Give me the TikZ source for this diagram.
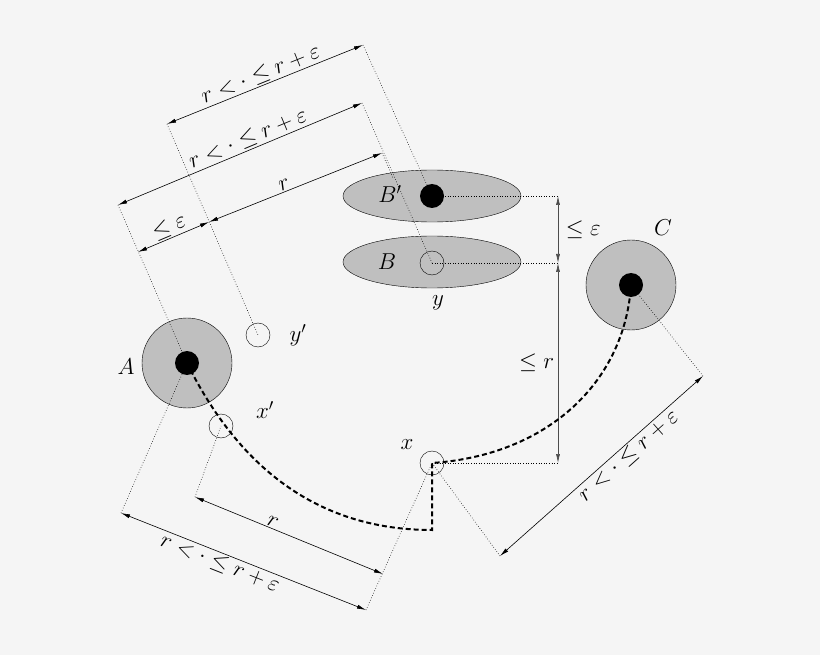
\RequirePackage{fix-cm}
\documentclass[tikz,border=0pt]{standalone}
\usetikzlibrary{arrows.meta,shapes.geometric}
\begin{document}
\begin{tikzpicture}[x=1pt,y=-1pt,
  lbl/.style={font=\fontsize{23}{26}\selectfont,inner sep=1.5pt},
  dim/.style={line width=0.6pt,{Latex[length=9pt,width=4pt]}-{Latex[length=9pt,width=4pt]}},
  ext/.style={dotted,line width=0.6pt},
  disk/.style={circle,draw,fill=gray!50,minimum size=90pt,inner sep=0pt},
  dot/.style={circle,fill=black,minimum size=24pt,inner sep=0pt},
  pt/.style={circle,draw,minimum size=24pt,inner sep=0pt},
  ell/.style={ellipse,draw,fill=gray!50,minimum width=178pt,minimum height=52pt,inner sep=0pt},
  path/.style={dashed,line width=2pt,dash pattern=on 5pt off 3pt}]
\useasboundingbox[fill=black!4] (0,0) rectangle (820,655);
% regions
\node[disk] (Ad) at (187,363) {};
\node[disk] (Cd) at (631,285) {};
\node[ell] (Bpe) at (432,196) {};
\node[ell] (Be) at (432,262) {};
\node[dot] (A) at (187,363) {};
\node[dot] (C) at (631,285) {};
\node[dot] (Bp) at (432,196) {};
\node[pt] (y) at (432,263) {};
\node[pt] (yp) at (258,335) {};
\node[pt] (xp) at (221,426) {};
\node[pt] (x) at (432,463) {};
\node[lbl] at (126,367) {$A$};
\node[lbl] at (663,228) {$C$};
\node[lbl] at (390,194) {$B'$};
\node[lbl] at (387,262) {$B$};
\node[lbl] at (438,303) {$y$};
\node[lbl] at (298,335) {$y'$};
\node[lbl] at (265,410) {$x'$};
\node[lbl] at (407,445) {$x$};
% coordinates
\coordinate (t1a) at (167,124); \coordinate (t1b) at (363,45);
\coordinate (t2a) at (118,205); \coordinate (t2b) at (362,103);
\coordinate (t3a) at (209,222); \coordinate (t3b) at (382,153); \coordinate (t3c) at (393,178);
\coordinate (t4a) at (138,252);
\coordinate (v1) at (558,196); \coordinate (v2) at (558,263); \coordinate (v3) at (558,463);
\coordinate (b1a) at (195,497); \coordinate (b1b) at (383,574);
\coordinate (b2a) at (121,513); \coordinate (b2b) at (366,610);
\coordinate (r1a) at (500,556); \coordinate (r1b) at (703,376);
\coordinate (low) at (432,530);
% extension lines
\draw[ext] (t1b) -- (Bp.center);
\draw[ext] (t1a) -- (yp.center);
\draw[ext] (t2b) -- (y.center);
\draw[ext] (t2a) -- (A.center);
\draw[ext] (t3b) -- (t3c);
\draw[ext] (Bp.center) -- (v1);
\draw[ext] (y.center) -- (v2);
\draw[ext] (x.center) -- (v3);
\draw[ext] (b1a) -- (xp.center);
\draw[ext] (b2a) -- (A.center);
\draw[ext] (b2b) -- (x.center);
\draw[ext] (r1a) -- (x.center);
\draw[ext] (r1b) -- (C.center);
% dimension arrows
\draw[dim] (t1a) -- node[lbl,above,sloped] {$r<\cdot\leq r+\varepsilon$} (t1b);
\draw[dim] (t2a) -- node[lbl,above,sloped,pos=0.55] {$r<\cdot\leq r+\varepsilon$} (t2b);
\draw[dim] (t3a) -- node[lbl,above,sloped,pos=0.45] {$r$} (t3b);
\draw[dim] (t4a) -- node[lbl,above,sloped] {$\leq\varepsilon$} (t3a);
\draw[dim,draw=black!70] (v1) -- node[lbl,right=6pt] {$\leq\varepsilon$} (v2);
\draw[dim,draw=black!70] (v2) -- node[lbl,left=2pt] {$\leq r$} (v3);
\draw[dim] (b1a) -- node[lbl,above,sloped,pos=0.4] {$r$} (b1b);
\draw[dim] (b2a) -- node[lbl,below,sloped,pos=0.42] {$r<\cdot\leq r+\varepsilon$} (b2b);
\draw[dim] (r1a) -- node[lbl,below,sloped,pos=0.6] {$r<\cdot\leq r+\varepsilon$} (r1b);
% path
\draw[path] (A.center) .. controls (245,480) and (330,530) .. (low) -- (x.center)
  .. controls (550,455) and (625,380) .. (C.center);
\end{tikzpicture}
\end{document}
